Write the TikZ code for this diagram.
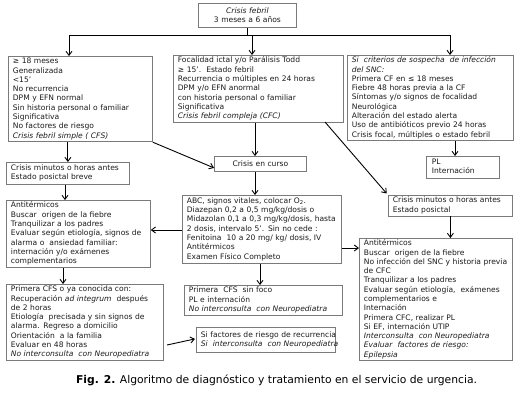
\documentclass[tikz,border=0pt]{standalone}
\usepackage{fontspec}
\setmainfont{DejaVu Sans}
\usetikzlibrary{arrows.meta}
\definecolor{boxgray}{HTML}{7A7A7A}
\definecolor{txt}{HTML}{1C1C1C}
\newcommand\tlines[1]{\begin{tabular}[t]{@{}l@{}}#1\end{tabular}}
\begin{document}
\begin{tikzpicture}[x=1bp,y=-1bp,
  bx/.style={draw=boxgray, line width=0.8bp, anchor=north west, align=left, inner xsep=4.5bp, inner ysep=1bp, font=\fontsize{7.6}{9.3}\selectfont, text=txt},
  ar/.style={-{Straight Barb[length=4bp,width=6bp,line width=0.9bp]}, line width=0.9bp},
  ln/.style={line width=0.9bp}]
\useasboundingbox[fill=white] (0,0) rectangle (520,400);

\node[bx, align=center, text width=89bp, minimum height=24bp] (top) at (198,3) {\textit{Crisis febril}\\3 meses a 6 años};

\node[bx, text width=135bp, minimum height=84bp] (a) at (8,56) {\tlines{≥ 18 meses\\Generalizada\\<15'\\No recurrencia\\DPM y EFN normal\\Sin historia personal o familiar\\Significativa\\No factores de riesgo\\\textit{Crisis febril simple ( CFS)}}};

\node[bx, text width=161bp, minimum height=67bp] (b) at (173,55) {\tlines{Focalidad ictal y/o Parálisis Todd\\≥ 15'.\ \ Estado febril\\Recurrencia o múltiples en 24 horas\\DPM y/o EFN anormal\\con historia personal o familiar\\Significativa\\\textit{Crisis febril compleja (CFC)}}};

\node[bx, text width=157bp, minimum height=85bp] (c) at (347,55) {\tlines{\textit{Si\ \ criterios de sospecha\ \ de infección}\\\textit{del SNC:}\\Primera CF en ≤ 18 meses\\Fiebre 48 horas previa a la CF\\Síntomas y/o signos de focalidad\\Neurológica\\Alteración del estado alerta\\Uso de antibióticos previo 24 horas\\Crisis focal, múltiples o estado febril}};

\node[bx, align=center, text width=83bp, minimum height=15bp] (curso) at (214,156) {Crisis en curso};

\node[bx, text width=62bp, inner xsep=5.5bp, minimum height=22bp] (pl) at (426,156) {\tlines{PL\\Internación}};

\node[bx, text width=114bp, minimum height=22bp] (l2) at (6,162) {\tlines{Crisis minutos o horas antes\\Estado posictal breve}};

\node[bx, text width=115bp, minimum height=20bp] (r2) at (388,195) {\tlines{Crisis minutos o horas antes\\Estado posictal}};

\node[bx, text width=135bp, minimum height=67bp] (l3) at (6,200) {\tlines{Antitérmicos\\Buscar\ \ origen de la fiebre\\Tranquilizar a los padres\\Evaluar según etiología, signos de\\alarma o\ \ ansiedad familiar:\\internación y/o exámenes\\complementarios}};

\node[bx, text width=150bp, minimum height=68bp] (abc) at (182,195) {\tlines{ABC, signos vitales, colocar O\textsubscript{2}.\\Diazepan 0,2 a 0,5 mg/kg/dosis o\\Midazolan 0,1 a 0,3 mg/kg/dosis, hasta\\2 dosis, intervalo 5'. Sin no cede :\\Fenitoina\ \ 10 a 20 mg/ kg/ dosis, IV\\Antitérmicos\\Examen Físico Completo}};

\node[bx, text width=144bp, minimum height=121bp] (d) at (359,238) {\tlines{Antitérmicos\\Buscar\ \ origen de la fiebre\\No infección del SNC y historia previa\\de CFC\\Tranquilizar a los padres\\Evaluar según etiología,\ \ exámenes\\complementarios e\\Internación\\Primera CFC, realizar PL\\Si EF, internación UTIP\\\textit{Interconsulta\ \ con Neuropediatra}\\\textit{Evaluar\ \ factores de riesgo:}\\\textit{Epilepsia}}};

\node[bx, text width=148bp, minimum height=76bp] (l4) at (6,284) {\tlines{Primera CFS o ya conocida con:\\Recuperación \textit{ad integrum}\ \ después\\de 2 horas\\Etiología\ \ precisada y sin signos de\\alarma. Regreso a domicilio\\Orientación\ \ a la familia\\Evaluar en 48 horas\\\textit{No interconsulta\ \ con Neuropediatra}}};

\node[bx, text width=149bp, minimum height=28bp] (m4) at (184,285) {\tlines{Primera\ \ CFS\ \ sin foco\\PL e internación\\\textit{No interconsulta\ \ con Neuropediatra}}};

\node[bx, text width=130bp, minimum height=25bp] (m5) at (196,327) {\tlines{Si factores de riesgo de recurrencia\\\textit{Si\ \ interconsulta\ \ con Neuropediatra}}};

\node[font=\fontsize{10.8}{13}\selectfont, inner sep=0pt] (cap) at (276.5,380) {\textbf{Fig. 2.} Algoritmo de diagnóstico y tratamiento en el servicio de urgencia.};

% connectors
\coordinate (hl) at (69,35);
\coordinate (hm) at (252,35);
\coordinate (hr) at (450,35);
\draw[ln] (top.south) -- (top.south |- hl);
\draw[ln] (hl) -- (hr);
\draw[ar] (hl) -- (hl |- a.north);
\draw[ar] (hm) -- (hm |- b.north);
\draw[ar] (hr) -- (hr |- c.north);

\draw[ar] (l2.north |- a.south) -- (l2.north);
\draw[ar] (a.south east) -- ([yshift=-4bp]curso.west);
\coordinate (bx1) at (255,0);
\draw[ar] (bx1 |- b.south) -- (bx1 |- curso.north);
\coordinate (bse) at (325,122);
\draw[ar, shorten >=2bp] (bse) -- (r2.north west);
\coordinate (cx1) at (455,0);
\draw[ar] (cx1 |- c.south) -- (cx1 |- pl.north);
\draw[ar] (bx1 |- curso.south) -- (bx1 |- abc.north);
\coordinate (lx1) at (65,0);
\draw[ar] (lx1 |- l2.south) -- (lx1 |- l3.north);
\coordinate (ay1) at (0,230);
\draw[ar] (abc.west |- ay1) -- (l3.east |- ay1);
\coordinate (ay2) at (0,248);
\draw[ar] (abc.east |- ay2) -- (d.west |- ay2);
\draw[ar] (r2.south) -- (r2.south |- d.north);
\coordinate (mx1) at (260,0);
\draw[ar] (mx1 |- abc.south) -- (mx1 |- m4.north);
\coordinate (lx2) at (63,0);
\draw[ar] (lx2 |- l3.south) -- (lx2 |- l4.north);
\coordinate (l4e) at (167,345);
\draw[ar] (l4e) -- ([shift={(-1bp,1bp)}]m5.west);
\end{tikzpicture}
\end{document}
